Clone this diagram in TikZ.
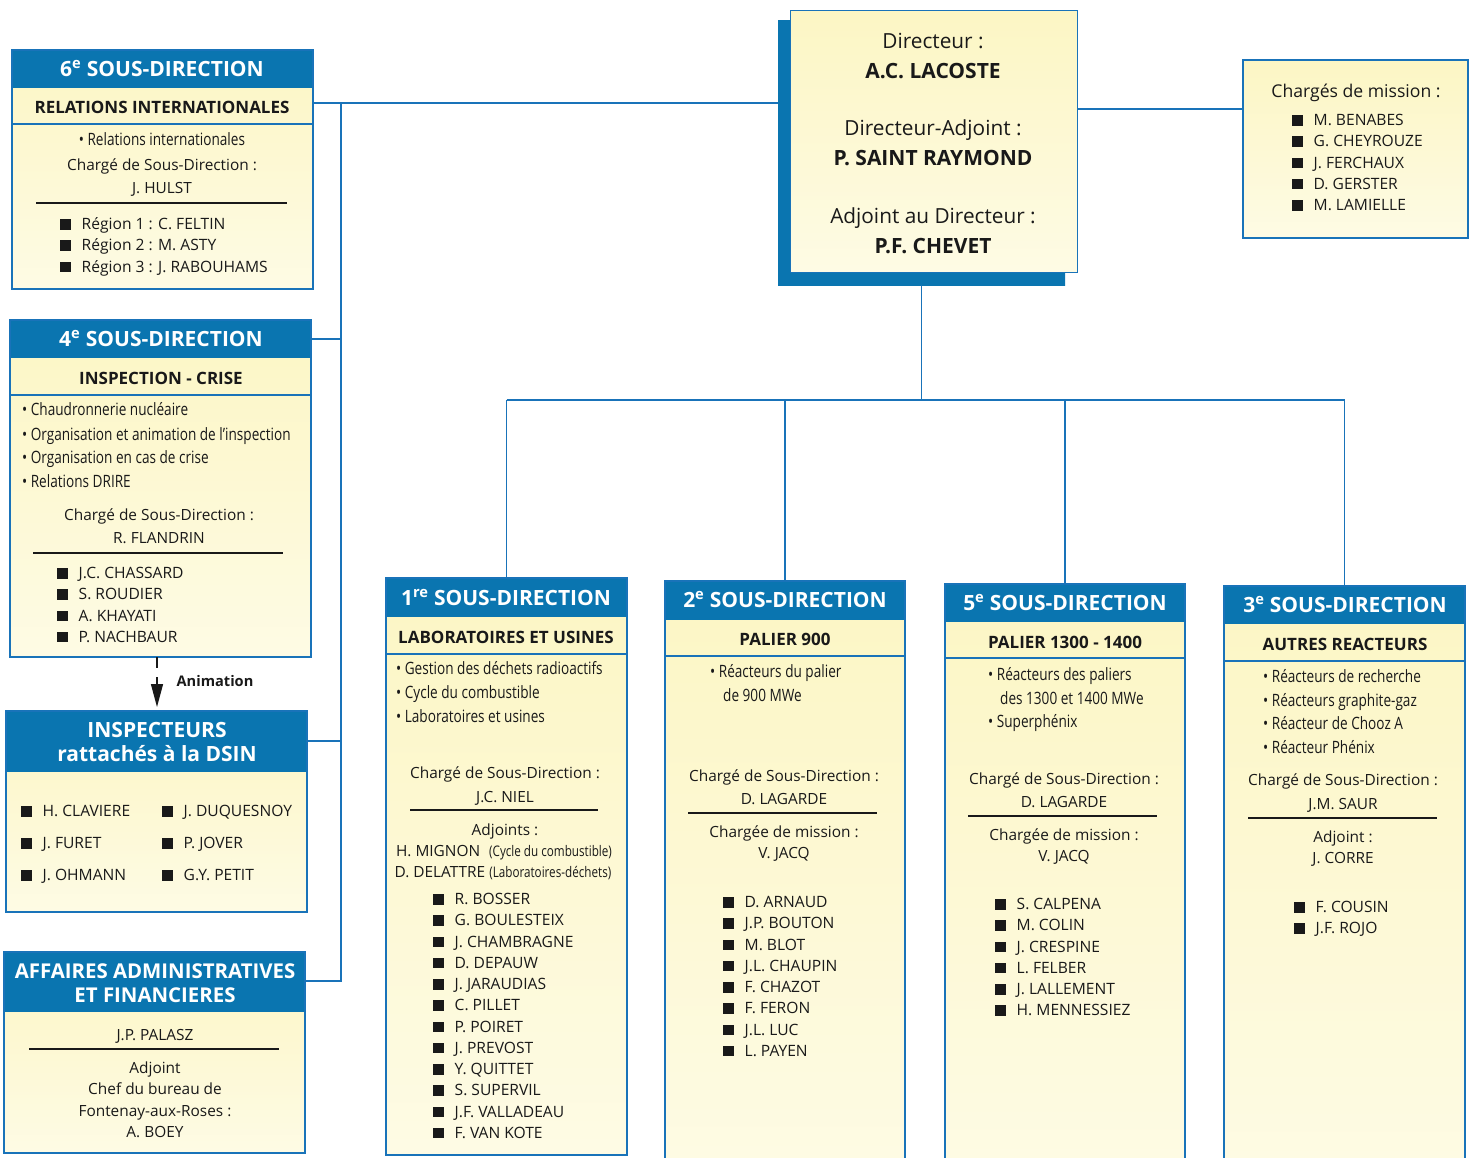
\documentclass[tikz,border=0pt]{standalone}
\usepackage{fontspec}
\setmainfont{Open Sans}
\newfontfamily\condf[FakeStretch=0.80]{Open Sans}
\usetikzlibrary{arrows.meta}
\definecolor{hblue}{RGB}{10,117,176}
\definecolor{lblue}{RGB}{25,115,185}
\definecolor{pale}{RGB}{252,246,196}
\definecolor{ink}{RGB}{25,25,25}
\newcommand\sqb{\textcolor{ink}{\rule{10.5pt}{10.5pt}}\hspace{11pt}}
\tikzset{
  panel/.style={draw=lblue, line width=1.3pt, top color=pale, bottom color=pale!45!white, inner sep=0pt, outer sep=0pt, anchor=north west},
  conn/.style={draw=lblue, line width=1.3pt},
  ttl/.style={text=white, font=\fontsize{21}{24}\selectfont\bfseries, anchor=base, inner sep=0pt},
  sub/.style={text=ink, font=\fontsize{17}{20}\selectfont\bfseries, anchor=base, inner sep=0pt},
  txt/.style={text=ink, font=\fontsize{15.4}{18}\selectfont, anchor=base, inner sep=0pt},
  dtxt/.style={text=ink, font=\fontsize{20.8}{24}\selectfont, anchor=base, inner sep=0pt},
  dbold/.style={text=ink, font=\fontsize{21}{24}\selectfont\bfseries, anchor=base, inner sep=0pt},
  cnd/.style={text=ink, font=\condf\fontsize{17}{20}\selectfont, anchor=base west, inner sep=0pt},
  cndc/.style={text=ink, font=\condf\fontsize{17}{20}\selectfont, anchor=base, inner sep=0pt},
  itm/.style={text=ink, font=\fontsize{15.6}{18}\selectfont, anchor=base west, inner sep=0pt},
  sep/.style={draw=ink, line width=1.2pt},
}
\newcommand\panelbox[6]{%
  \node[panel, minimum width=#4pt, minimum height=#5pt] (#1) at (#2,#3) {};
  \fill[hblue] (#2,#3) rectangle ++(#4,#6);
  \draw[lblue, line width=1.3pt] (#2,#3) rectangle ++(#4,#5);
}
\newcommand\itemlist[4]{\foreach \t [count=\i] in {#4} {\node[itm] (#1-\i) at (#2,{#3+21.25*(\i-1)+5.5}) {\sqb\t};}}
\begin{document}
\begin{tikzpicture}[x=1pt,y=-1pt]
\useasboundingbox (0,0) rectangle (1474,1157);
\fill[white] (0,0) rectangle (1474,1157);

% ---- panels ----
\panelbox{b6}{12}{50}{301}{239}{38}
\draw[lblue, line width=1.1pt] (12,124) -- (313,124);
\panelbox{b4}{10}{320}{301}{337}{38}
\draw[lblue, line width=1.1pt] (10,395) -- (311,395);
\panelbox{insp}{6}{711}{301}{201}{61}
\panelbox{aff}{4}{952}{301}{201}{60}
\node[panel, minimum width=225pt, minimum height=178pt] (cm) at (1243,60) {};
\panelbox{b1}{386}{578}{241}{577}{39}
\draw[lblue, line width=1.1pt] (386,654) -- (627,654);
\panelbox{b2}{665}{581}{240}{600}{39}
\draw[lblue, line width=1.1pt] (665,656) -- (905,656);
\panelbox{b5}{945}{584}{240}{600}{38}
\draw[lblue, line width=1.1pt] (945,658) -- (1185,658);
\panelbox{b3}{1224}{586}{241}{600}{38}
\draw[lblue, line width=1.1pt] (1224,661) -- (1465,661);

% ---- connectors ----
\coordinate (jt) at (341,103);
\coordinate (jb) at (341,981);
\coordinate (j4) at (341,339);
\coordinate (ji) at (341,741);
\coordinate (jr) at (1160,109);
\coordinate (jd) at (922,400);
\coordinate (ax) at (157,0);
\node[panel, fill=hblue, top color=hblue, bottom color=hblue, draw=none, minimum width=287pt, minimum height=265pt] (dsh) at (778,20) {};
\draw[conn] (b6.east |- jt) -- (dsh.west |- jt);
\draw[conn] (jt) -- (jb) -- (aff.east |- jb);
\draw[conn] (j4) -- (b4.east |- j4);
\draw[conn] (ji) -- (insp.east |- ji);
\node[panel, line width=1pt, minimum width=287pt, minimum height=262pt] (dir) at (790,10) {};
\draw[conn] (dir.east |- jr) -- (cm.west |- jr);
\draw[conn] (dsh.south) -- (dsh.south |- jd);
\draw[conn] (b1.north |- jd) -- (b3.north |- jd);
\foreach \b in {b1,b2,b5,b3} \draw[conn] (\b.north |- jd) -- (\b.north);
\draw[ink, line width=1.3pt, dash pattern=on 11pt off 9pt, shorten >=4pt, -{Triangle[length=23pt,width=12pt]}] (b4.south -| ax) -- (insp.north -| ax);
\node[txt, font=\fontsize{14.6}{17}\selectfont\bfseries] (anim) at (215,686) {Animation};

% ---- director ----
\node[dtxt] (d1) at (933,48) {Directeur :};
\node[dbold] (d2) at (933,78) {A.C. LACOSTE};
\node[dtxt] (d3) at (933,135) {Directeur-Adjoint :};
\node[dbold] (d4) at (933,165) {P. SAINT RAYMOND};
\node[dtxt] (d5) at (933,223) {Adjoint au Directeur :};
\node[dbold] (d6) at (933,253) {P.F. CHEVET};

% ---- charges de mission ----
\node[txt, font=\fontsize{17.6}{20}\selectfont] (cmt) at (1356,97) {Chargés de mission :};
\itemlist{cmi}{1292}{120}{M. BENABES,G. CHEYROUZE,J. FERCHAUX,D. GERSTER,M. LAMIELLE}

% ---- 6e ----
\node[ttl] (b6t) at (162,76) {6\textsuperscript{e} SOUS-DIRECTION};
\node[sub] (b6s) at (162,113) {RELATIONS INTERNATIONALES};
\node[cndc] (b6a) at (162,145) {• Relations internationales};
\node[txt] (b6b) at (162,170) {Chargé de Sous-Direction :};
\node[txt] (b6c) at (162,193) {J. HULST};
\draw[sep] (36,203) -- (287,203);
\itemlist{b6i}{60}{224}{Région 1 : C. FELTIN,Région 2 : M. ASTY,Région 3 : J. RABOUHAMS}

% ---- 4e ----
\node[ttl] (b4t) at (161,346) {4\textsuperscript{e} SOUS-DIRECTION};
\node[sub] (b4s) at (161,384) {INSPECTION - CRISE};
\node[cnd] (b4a) at (22,415) {• Chaudronnerie nucléaire};
\node[cnd] (b4b) at (22,440) {• Organisation et animation de l’inspection};
\node[cnd] (b4c) at (22,463) {• Organisation en cas de crise};
\node[cnd] (b4d) at (22,487) {• Relations DRIRE};
\node[txt] (b4e) at (159,520) {Chargé de Sous-Direction :};
\node[txt] (b4f) at (159,543) {R. FLANDRIN};
\draw[sep] (33,553) -- (283,553);
\itemlist{b4i}{57}{573}{J.C. CHASSARD,S. ROUDIER,A. KHAYATI,P. NACHBAUR}

% ---- inspecteurs ----
\node[ttl] (it1) at (157,737) {INSPECTEURS};
\node[ttl] (it2) at (157,761) {rattachés à la DSIN};
\foreach \t [count=\i] in {H. CLAVIERE,J. FURET,J. OHMANN} {\node[itm] (ia-\i) at (21,{811+32*(\i-1)+5.5}) {\sqb\t};}
\foreach \t [count=\i] in {J. DUQUESNOY,P. JOVER,G.Y. PETIT} {\node[itm] (ib-\i) at (162,{811+32*(\i-1)+5.5}) {\sqb\t};}

% ---- affaires ----
\node[ttl, font=\fontsize{20.4}{24}\selectfont\bfseries] (at1) at (155,978) {AFFAIRES ADMINISTRATIVES};
\node[ttl, font=\fontsize{20.4}{24}\selectfont\bfseries] (at2) at (155,1002) {ET FINANCIERES};
\node[txt] (aa) at (155,1040) {J.P. PALASZ};
\draw[sep] (29,1049) -- (279,1049);
\node[txt] (ab) at (155,1073) {Adjoint};
\node[txt] (ac) at (155,1094) {Chef du bureau de};
\node[txt] (ad) at (155,1116) {Fontenay-aux-Roses :};
\node[txt] (ae) at (155,1137) {A. BOEY};

% ---- 1re ----
\node[ttl] (b1t) at (506,605) {1\textsuperscript{re} SOUS-DIRECTION};
\node[sub] (b1s) at (506,643) {LABORATOIRES ET USINES};
\node[cnd] (b1a) at (396,674) {• Gestion des déchets radioactifs};
\node[cnd] (b1b) at (396,698) {• Cycle du combustible};
\node[cnd] (b1c) at (396,722) {• Laboratoires et usines};
\node[txt] (b1d) at (505,778) {Chargé de Sous-Direction :};
\node[txt] (b1e) at (505,802) {J.C. NIEL};
\draw[sep] (410,810) -- (598,810);
\node[txt] (b1f) at (505,835) {Adjoints :};
\node[txt] (b1g) at (504,856) {H. MIGNON\hspace{9pt}{\condf\fontsize{14.6}{18}\selectfont (Cycle du combustible)}};
\node[txt] (b1h) at (503,877) {D. DELATTRE {\condf\fontsize{14.6}{18}\selectfont (Laboratoires-déchets)}};
\itemlist{b1i}{433}{899}{R. BOSSER,G. BOULESTEIX,J. CHAMBRAGNE,D. DEPAUW,J. JARAUDIAS,C. PILLET,P. POIRET,J. PREVOST,Y. QUITTET,S. SUPERVIL,J.F. VALLADEAU,F. VAN KOTE}

% ---- 2e ----
\node[ttl] (b2t) at (785,607) {2\textsuperscript{e} SOUS-DIRECTION};
\node[sub] (b2s) at (785,645) {PALIER 900};
\node[cnd] (b2a) at (710,677) {• Réacteurs du palier};
\node[cnd] (b2b) at (723,701) {de 900 MWe};
\node[txt] (b2c) at (784,781) {Chargé de Sous-Direction :};
\node[txt] (b2d) at (784,804) {D. LAGARDE};
\draw[sep] (688,813) -- (877,813);
\node[txt] (b2e) at (784,837) {Chargée de mission :};
\node[txt] (b2f) at (784,858) {V. JACQ};
\itemlist{b2i}{723}{902}{D. ARNAUD,J.P. BOUTON,M. BLOT,J.L. CHAUPIN,F. CHAZOT,F. FERON,J.L. LUC,L. PAYEN}

% ---- 5e ----
\node[ttl] (b5t) at (1065,610) {5\textsuperscript{e} SOUS-DIRECTION};
\node[sub] (b5s) at (1065,648) {PALIER 1300 - 1400};
\node[cnd] (b5a) at (988,680) {• Réacteurs des paliers};
\node[cnd] (b5b) at (1000,704) {des 1300 et 1400 MWe};
\node[cnd] (b5c) at (988,727) {• Superphénix};
\node[txt] (b5d) at (1064,784) {Chargé de Sous-Direction :};
\node[txt] (b5e) at (1064,807) {D. LAGARDE};
\draw[sep] (968,816) -- (1157,816);
\node[txt] (b5f) at (1064,840) {Chargée de mission :};
\node[txt] (b5g) at (1064,861) {V. JACQ};
\itemlist{b5i}{995}{904}{S. CALPENA,M. COLIN,J. CRESPINE,L. FELBER,J. LALLEMENT,H. MENNESSIEZ}

% ---- 3e ----
\node[ttl] (b3t) at (1345,612) {3\textsuperscript{e} SOUS-DIRECTION};
\node[sub] (b3s) at (1345,650) {AUTRES REACTEURS};
\node[cnd] (b3a) at (1263,682) {• Réacteurs de recherche};
\node[cnd] (b3b) at (1263,706) {• Réacteurs graphite-gaz};
\node[cnd] (b3c) at (1263,729) {• Réacteur de Chooz A};
\node[cnd] (b3d) at (1263,753) {• Réacteur Phénix};
\node[txt] (b3e) at (1343,785) {Chargé de Sous-Direction :};
\node[txt] (b3f) at (1343,809) {J.M. SAUR};
\draw[sep] (1248,818) -- (1437,818);
\node[txt] (b3g) at (1343,842) {Adjoint :};
\node[txt] (b3h) at (1343,863) {J. CORRE};
\itemlist{b3i}{1294}{907}{F. COUSIN,J.F. ROJO}
\end{tikzpicture}
\end{document}
